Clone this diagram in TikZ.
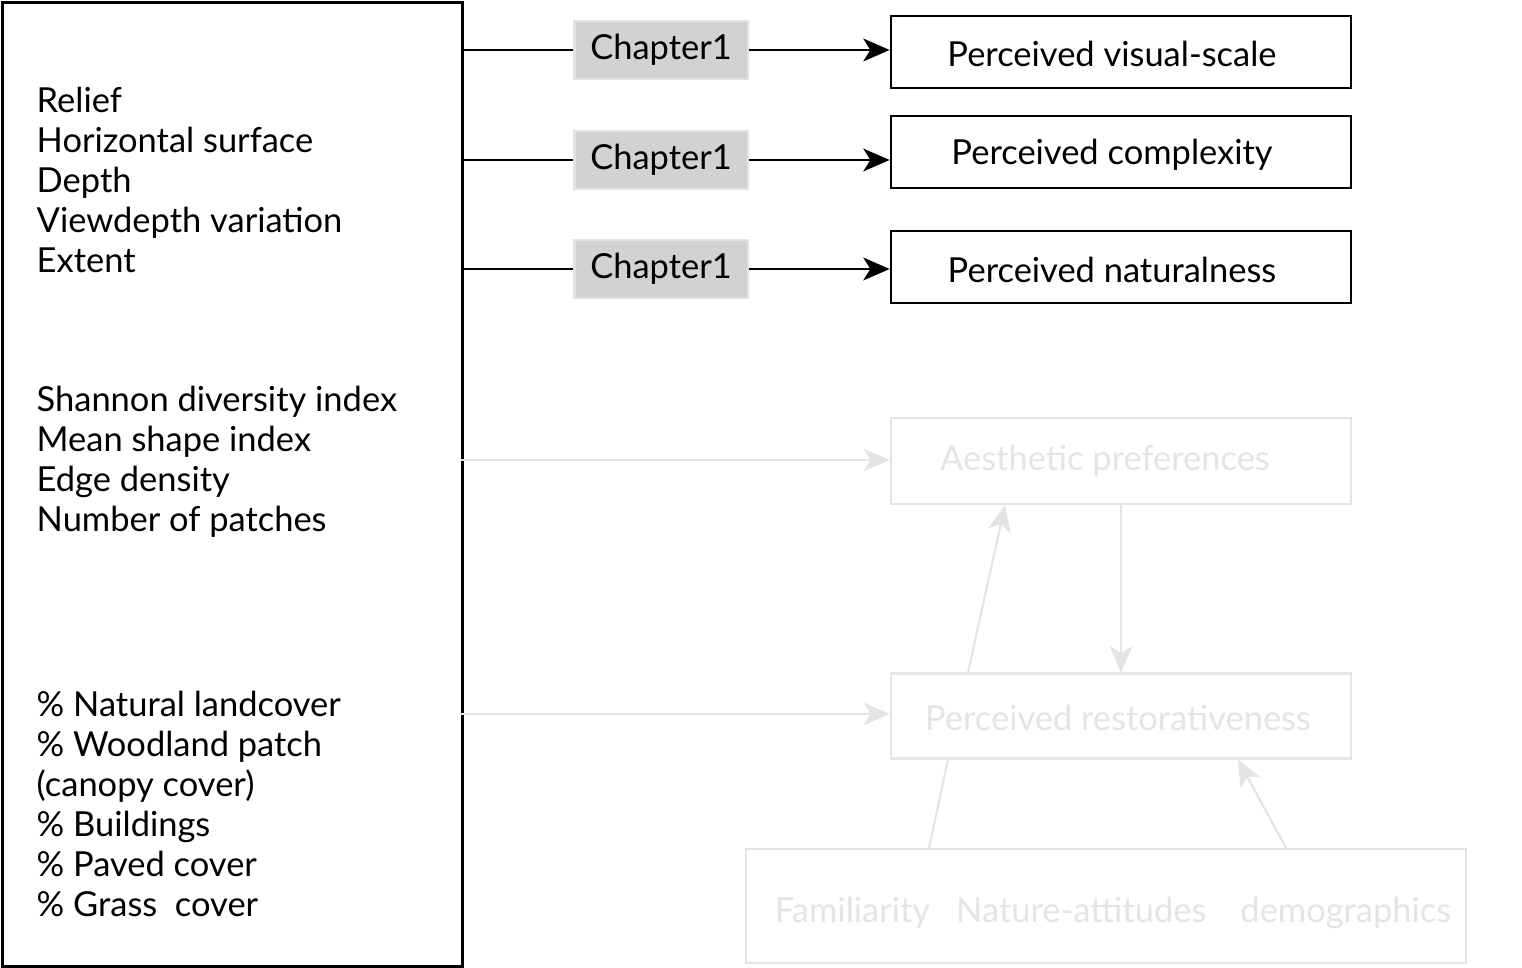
\documentclass[tikz,border=0pt]{standalone}
\usepackage{fontspec}
\setmainfont{Lato}
\usetikzlibrary{arrows.meta}

\definecolor{faint}{RGB}{228,228,228}
\definecolor{chapfill}{RGB}{210,210,210}
\definecolor{chapline}{RGB}{226,226,226}

\tikzset{
	outcome/.style={draw, line width=0.7pt, minimum width=4.6cm, minimum height=0.72cm, inner sep=0pt},
	chapbox/.style={draw=chapline, fill=chapfill, line width=0.6pt, minimum width=1.73cm, minimum height=0.58cm, inner sep=0pt},
	faintbox/.style={draw=faint, text=faint, line width=0.6pt, inner sep=0pt},
	varlist/.style={anchor=west, align=left, inner sep=0pt},
	link/.style={line width=0.6pt},
	arr/.style={line width=0.6pt, -{Stealth[length=7.5pt,width=6.5pt,inset=2pt]}},
}

\begin{document}
\begin{tikzpicture}[x=0.01cm, y=-0.01cm, font=\fontsize{9.8}{11.34}\selectfont]
	\useasboundingbox (0,0) rectangle (1522,968);
	% left box with landscape metrics
	\node [draw, line width=0.85pt, minimum width=4.6cm, minimum height=9.63cm, inner sep=0pt, anchor=north west] (vars) at (1,1) {};
	\node [varlist] (geom) at (36,180) {Relief\\Horizontal surface\\Depth\\Viewdepth variation\\Extent};
	\node [varlist] (config) at (36,462) {Shannon diversity index\\Mean shape index\\Edge density\\Number of patches};
	\node [varlist] (cover) at (36,804) {\% Natural landcover\\\% Woodland patch\\(canopy cover)\\\% Buildings\\\% Paved cover\\\% Grass\ \ cover};

	% chapter 1 outcomes
	\node [chapbox] (chA) at (661,50) {Chapter1};
	\node [chapbox] (chB) at (661,160) {Chapter1};
	\node [chapbox] (chC) at (661,269) {Chapter1};
	\node [outcome] (scale) at (1121,52) {};
	\node [outcome] (complex) at (1121,152) {};
	\node [outcome] (natural) at (1121,267) {};
	\node (scalelbl) at (1112,54) {Perceived visual-scale};
	\node (complexlbl) at (1112,155) {Perceived complexity};
	\node (naturallbl) at (1112,270) {Perceived naturalness};

	\draw [link] (vars.east |- chA) -- (chA.west);
	\draw [link] (vars.east |- chB) -- (chB.west);
	\draw [link] (vars.east |- chC) -- (chC.west);
	\draw [arr] (chA.east) -- (chA.east -| scale.west);
	\draw [arr] (chB.east) -- (chB.east -| complex.west);
	\draw [arr] (chC.east) -- (chC.east -| natural.west);

	% later chapters, greyed out
	\node [faintbox, minimum width=4.6cm, minimum height=0.86cm] (pref) at (1121,461) {};
	\node [faintbox, minimum width=4.6cm, minimum height=0.85cm] (restor) at (1121,716) {};
	\node [faintbox, minimum width=7.19cm, minimum height=1.14cm] (person) at (1106,906) {};
	\node [text=faint] (preflbl) at (1105,461) {Aesthetic preferences};
	\node [text=faint] (restorlbl) at (1118,718) {Perceived restorativeness};
	\node [text=faint] (personlbl) at (1113,913) {Familiarity\hspace{0.26cm}Nature-attitudes\hspace{0.34cm}demographics};

	\coordinate (prefin) at (461,460);
	\coordinate (restin) at (461,714);
	\draw [arr, draw=faint, fill=faint] (prefin) -- (prefin -| pref.west);
	\draw [arr, draw=faint, fill=faint] (restin) -- (restin -| restor.west);
	\draw [arr, draw=faint, fill=faint] (pref.south) -- (restor.north);
	\draw [arr, draw=faint, fill=faint] (restor.north -| 968,0) -- (pref.south -| 1005,0);
	\draw [link, draw=faint] (person.north -| 929,0) -- (restor.south -| 948,0);
	\draw [arr, draw=faint, fill=faint] (person.north -| 1286,0) -- (restor.south -| 1238,0);
\end{tikzpicture}
\end{document}
